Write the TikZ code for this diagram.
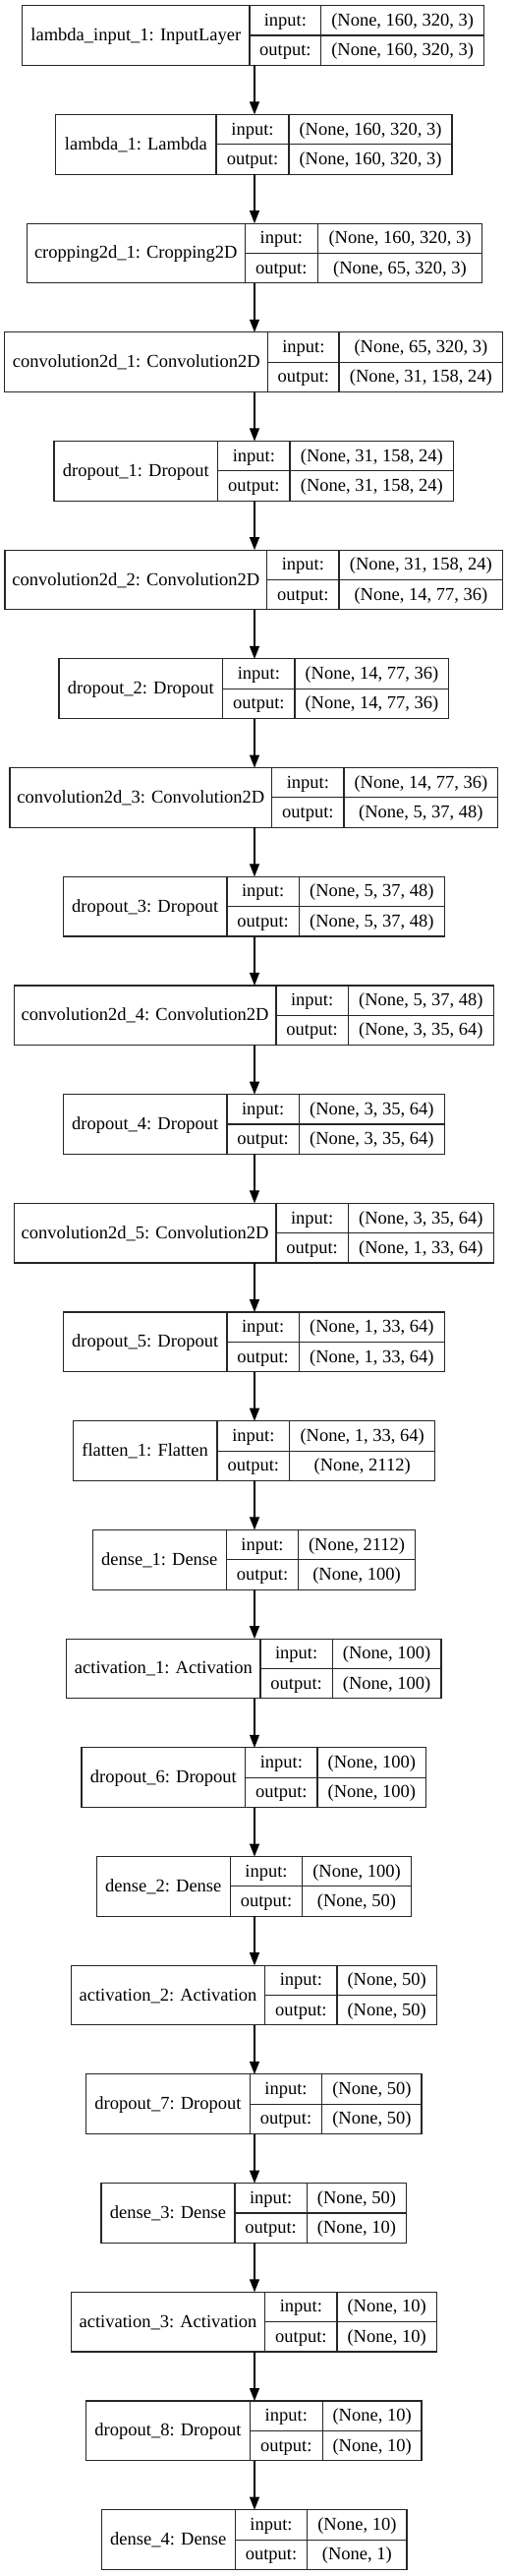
\documentclass[tikz,border=0pt]{standalone}
\usepackage{fontspec}
\setmainfont{Liberation Serif}
\usetikzlibrary{arrows.meta}
\newcommand\fs{\fontsize{18.5pt}{22pt}\selectfont}
\tikzset{
  cell/.style={rectangle, inner sep=0pt, outer sep=0pt,
    text height=15pt, text depth=4pt, font=\fs, anchor=north west},
  wholebox/.style={draw=black!85, line width=1.1pt, rectangle, inner sep=0pt, outer sep=0pt, anchor=north west},
  divider/.style={draw=black!85, line width=1.1pt},
  arr/.style={draw=black, line width=1.1pt, -{Triangle[length=13pt,width=10pt]}}
}
\newcommand\layer[8]{%
  \pgfmathsetmacro\ytop{5.67+(#1-1)*110.696}%
  \pgfmathsetmacro\ymid{\ytop+30.35}%
  \pgfmathsetmacro\wa{#4-#3}%
  \pgfmathsetmacro\wb{#5-#4}%
  \pgfmathsetmacro\wc{#6-#5}%
  \pgfmathsetmacro\wt{#6-#3}%
  \node[wholebox, minimum width=\wt pt, minimum height=60.7pt] (box#1) at (#3,\ytop) {};
  \node[cell, minimum width=\wa pt, minimum height=60.7pt] (name#1) at (#3,\ytop) {#2};
  \node[cell, minimum width=\wb pt, minimum height=30.35pt] (il#1) at (#4,\ytop) {input:};
  \node[cell, minimum width=\wb pt, minimum height=30.35pt] (ol#1) at (#4,\ymid) {output:};
  \node[cell, minimum width=\wc pt, minimum height=30.35pt] (iv#1) at (#5,\ytop) {#7};
  \node[cell, minimum width=\wc pt, minimum height=30.35pt] (ov#1) at (#5,\ymid) {#8};
  \draw[divider] (il#1.north west |- box#1.north) -- (il#1.north west |- box#1.south);
  \draw[divider] (iv#1.north west |- box#1.north) -- (iv#1.north west |- box#1.south);
  \draw[divider] (il#1.south west) -- (il#1.south west -| box#1.east);
}
\begin{document}
\begin{tikzpicture}[x=1pt,y=-1pt]
\fill[white] (0,0) rectangle (517,2619);
\useasboundingbox (0,0) rectangle (517,2619);
\coordinate (axis) at (259,0);
\layer{1}{lambda\_input\_1: InputLayer}{22.7}{254}{326.7}{492.7}{(None, 160, 320, 3)}{(None, 160, 320, 3)}
\layer{2}{lambda\_1: Lambda}{56.7}{220}{294}{460}{(None, 160, 320, 3)}{(None, 160, 320, 3)}
\layer{3}{cropping2d\_1: Cropping2D}{27.3}{249.3}{323.3}{490.7}{(None, 160, 320, 3)}{(None, 65, 320, 3)}
\layer{4}{convolution2d\_1: Convolution2D}{4.7}{272.7}{345}{511.7}{(None, 65, 320, 3)}{(None, 31, 158, 24)}
\layer{5}{dropout\_1: Dropout}{55}{221.7}{295}{461.7}{(None, 31, 158, 24)}{(None, 31, 158, 24)}
\layer{6}{convolution2d\_2: Convolution2D}{5}{271.7}{345}{511.7}{(None, 31, 158, 24)}{(None, 14, 77, 36)}
\layer{7}{dropout\_2: Dropout}{60}{226.7}{300}{456.7}{(None, 14, 77, 36)}{(None, 14, 77, 36)}
\layer{8}{convolution2d\_3: Convolution2D}{10}{276.7}{350}{506.7}{(None, 14, 77, 36)}{(None, 5, 37, 48)}
\layer{9}{dropout\_3: Dropout}{64.3}{231}{304.3}{452.3}{(None, 5, 37, 48)}{(None, 5, 37, 48)}
\layer{10}{convolution2d\_4: Convolution2D}{14.3}{281}{354.3}{502.3}{(None, 5, 37, 48)}{(None, 3, 35, 64)}
\layer{11}{dropout\_4: Dropout}{64.3}{231}{304.3}{452.3}{(None, 3, 35, 64)}{(None, 3, 35, 64)}
\layer{12}{convolution2d\_5: Convolution2D}{14.3}{281}{354.3}{502.3}{(None, 3, 35, 64)}{(None, 1, 33, 64)}
\layer{13}{dropout\_5: Dropout}{64.3}{231}{304.3}{452.3}{(None, 1, 33, 64)}{(None, 1, 33, 64)}
\layer{14}{flatten\_1: Flatten}{74.3}{221}{294.7}{442.7}{(None, 1, 33, 64)}{(None, 2112)}
\layer{15}{dense\_1: Dense}{94.3}{230.3}{303.7}{422.3}{(None, 2112)}{(None, 100)}
\layer{16}{activation\_1: Activation}{67.7}{265}{338.3}{449}{(None, 100)}{(None, 100)}
\layer{17}{dropout\_6: Dropout}{83}{249.7}{323}{433.7}{(None, 100)}{(None, 100)}
\layer{18}{dense\_2: Dense}{98.3}{234.3}{307.7}{418.3}{(None, 100)}{(None, 50)}
\layer{19}{activation\_2: Activation}{72.3}{269.7}{343}{444.3}{(None, 50)}{(None, 50)}
\layer{20}{dropout\_7: Dropout}{87.7}{254.3}{327.7}{429}{(None, 50)}{(None, 50)}
\layer{21}{dense\_3: Dense}{103}{239}{312.3}{413.7}{(None, 50)}{(None, 10)}
\layer{22}{activation\_3: Activation}{72.3}{269.7}{343}{444.3}{(None, 10)}{(None, 10)}
\layer{23}{dropout\_8: Dropout}{87.7}{254.3}{328.3}{429}{(None, 10)}{(None, 10)}
\layer{24}{dense\_4: Dense}{103.3}{239.3}{312.7}{414}{(None, 10)}{(None, 1)}
\foreach \i [evaluate=\i as \j using int(\i+1)] in {1,...,23} {
  \draw[arr] (box\i.south -| axis) -- (box\j.north -| axis);
}
\end{tikzpicture}
\end{document}
